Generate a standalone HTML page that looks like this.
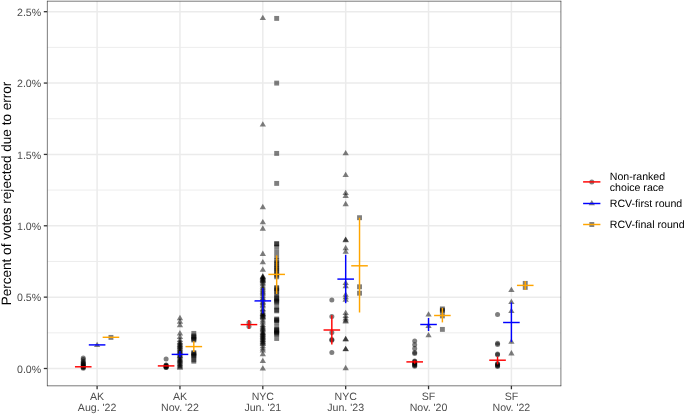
<!DOCTYPE html>
<html><head><meta charset="utf-8"><style>
html,body{margin:0;padding:0;background:#fff;width:685px;height:415px;overflow:hidden}
svg{display:block;will-change:transform}
text{font-family:"Liberation Sans",sans-serif;text-rendering:geometricPrecision}
</style></head><body>
<svg width="685" height="415" viewBox="0 0 685 415">
<rect width="685" height="415" fill="#fff"/>
<g stroke="#EBEBEB" fill="none"><line x1="47.3" y1="332.82" x2="561" y2="332.82" stroke-width="0.9"/><line x1="47.3" y1="261.46" x2="561" y2="261.46" stroke-width="0.9"/><line x1="47.3" y1="190.1" x2="561" y2="190.1" stroke-width="0.9"/><line x1="47.3" y1="118.74" x2="561" y2="118.74" stroke-width="0.9"/><line x1="47.3" y1="47.38" x2="561" y2="47.38" stroke-width="0.9"/><line x1="47.3" y1="368.5" x2="561" y2="368.5" stroke-width="1.5"/><line x1="47.3" y1="297.14" x2="561" y2="297.14" stroke-width="1.5"/><line x1="47.3" y1="225.78" x2="561" y2="225.78" stroke-width="1.5"/><line x1="47.3" y1="154.42" x2="561" y2="154.42" stroke-width="1.5"/><line x1="47.3" y1="83.06" x2="561" y2="83.06" stroke-width="1.5"/><line x1="47.3" y1="11.7" x2="561" y2="11.7" stroke-width="1.5"/><line x1="97.1" y1="1.2" x2="97.1" y2="385.8" stroke-width="1.5"/><line x1="179.96" y1="1.2" x2="179.96" y2="385.8" stroke-width="1.5"/><line x1="262.82" y1="1.2" x2="262.82" y2="385.8" stroke-width="1.5"/><line x1="345.68" y1="1.2" x2="345.68" y2="385.8" stroke-width="1.5"/><line x1="428.54" y1="1.2" x2="428.54" y2="385.8" stroke-width="1.5"/><line x1="511.4" y1="1.2" x2="511.4" y2="385.8" stroke-width="1.5"/></g>
<g fill="#000000" fill-opacity="0.5"><circle cx="83.25" cy="357.9" r="2.5"/><circle cx="83.25" cy="359.6" r="2.5"/><circle cx="83.25" cy="361.5" r="2.5"/><circle cx="83.25" cy="362.5" r="2.5"/><circle cx="83.25" cy="363.4" r="2.5"/><circle cx="83.25" cy="364.2" r="2.5"/><circle cx="83.25" cy="365" r="2.5"/><circle cx="83.25" cy="365.7" r="2.5"/><circle cx="83.25" cy="366.4" r="2.5"/><circle cx="83.25" cy="367" r="2.5"/><circle cx="83.25" cy="367.6" r="2.5"/><circle cx="83.25" cy="368.2" r="2.5"/><circle cx="166.11" cy="358.9" r="2.5"/><circle cx="166.11" cy="364.9" r="2.5"/><circle cx="166.11" cy="365.3" r="2.5"/><circle cx="166.11" cy="365.9" r="2.5"/><circle cx="166.11" cy="366.4" r="2.5"/><circle cx="166.11" cy="366.9" r="2.5"/><circle cx="166.11" cy="367.3" r="2.5"/><circle cx="166.11" cy="367.6" r="2.5"/><circle cx="248.97" cy="322.8" r="2.5"/><circle cx="248.97" cy="326.4" r="2.5"/><circle cx="331.83" cy="299.9" r="2.5"/><circle cx="331.83" cy="316.4" r="2.5"/><circle cx="331.83" cy="332.6" r="2.5"/><circle cx="331.83" cy="339.6" r="2.5"/><circle cx="331.83" cy="340.2" r="2.5"/><circle cx="331.83" cy="352.5" r="2.5"/><circle cx="414.69" cy="341" r="2.5"/><circle cx="414.69" cy="344.8" r="2.5"/><circle cx="414.69" cy="348.4" r="2.5"/><circle cx="414.69" cy="352.6" r="2.5"/><circle cx="414.69" cy="353.6" r="2.5"/><circle cx="414.69" cy="360.9" r="2.5"/><circle cx="414.69" cy="361.6" r="2.5"/><circle cx="414.69" cy="362.4" r="2.5"/><circle cx="414.69" cy="363.2" r="2.5"/><circle cx="414.69" cy="364" r="2.5"/><circle cx="414.69" cy="364.8" r="2.5"/><circle cx="414.69" cy="365.6" r="2.5"/><circle cx="414.69" cy="366.3" r="2.5"/><circle cx="497.55" cy="314.4" r="2.5"/><circle cx="497.55" cy="343.2" r="2.5"/><circle cx="497.55" cy="344.4" r="2.5"/><circle cx="497.55" cy="354" r="2.5"/><circle cx="497.55" cy="354.8" r="2.5"/><circle cx="497.55" cy="363.4" r="2.5"/><circle cx="497.55" cy="364.2" r="2.5"/><circle cx="497.55" cy="365" r="2.5"/><circle cx="497.55" cy="365.8" r="2.5"/><circle cx="497.55" cy="366.4" r="2.5"/></g>
<g fill="#000000" fill-opacity="0.5"><path d="M97.1 341.65L100.25 346.98L93.95 346.98Z"/><path d="M179.96 314.85L183.11 320.18L176.81 320.18Z"/><path d="M179.96 318.35L183.11 323.68L176.81 323.68Z"/><path d="M179.96 321.85L183.11 327.18L176.81 327.18Z"/><path d="M179.96 330.05L183.11 335.38L176.81 335.38Z"/><path d="M179.96 333.65L183.11 338.98L176.81 338.98Z"/><path d="M179.96 336.65L183.11 341.98L176.81 341.98Z"/><path d="M179.96 338.62L183.11 343.95L176.81 343.95Z"/><path d="M179.96 339.69L183.11 345.02L176.81 345.02Z"/><path d="M179.96 340.9L183.11 346.23L176.81 346.23Z"/><path d="M179.96 341.63L183.11 346.96L176.81 346.96Z"/><path d="M179.96 342.65L183.11 347.98L176.81 347.98Z"/><path d="M179.96 343.7L183.11 349.03L176.81 349.03Z"/><path d="M179.96 344.46L183.11 349.79L176.81 349.79Z"/><path d="M179.96 345.66L183.11 350.99L176.81 350.99Z"/><path d="M179.96 346.73L183.11 352.06L176.81 352.06Z"/><path d="M179.96 347.83L183.11 353.16L176.81 353.16Z"/><path d="M179.96 348.41L183.11 353.74L176.81 353.74Z"/><path d="M179.96 349.53L183.11 354.86L176.81 354.86Z"/><path d="M179.96 350.4L183.11 355.73L176.81 355.73Z"/><path d="M179.96 351.84L183.11 357.17L176.81 357.17Z"/><path d="M179.96 352.77L183.11 358.1L176.81 358.1Z"/><path d="M179.96 353.38L183.11 358.71L176.81 358.71Z"/><path d="M179.96 354.94L183.11 360.27L176.81 360.27Z"/><path d="M179.96 355.93L183.11 361.26L176.81 361.26Z"/><path d="M179.96 356.74L183.11 362.07L176.81 362.07Z"/><path d="M179.96 357.72L183.11 363.05L176.81 363.05Z"/><path d="M179.96 358.44L183.11 363.77L176.81 363.77Z"/><path d="M179.96 359.36L183.11 364.69L176.81 364.69Z"/><path d="M179.96 360.67L183.11 366L176.81 366Z"/><path d="M179.96 361.39L183.11 366.72L176.81 366.72Z"/><path d="M179.96 362.46L183.11 367.79L176.81 367.79Z"/><path d="M179.96 363.5L183.11 368.83L176.81 368.83Z"/><path d="M179.96 364.37L183.11 369.7L176.81 369.7Z"/><path d="M262.82 14.68L265.97 20.01L259.67 20.01Z"/><path d="M262.82 121.25L265.97 126.58L259.67 126.58Z"/><path d="M262.82 203.85L265.97 209.18L259.67 209.18Z"/><path d="M262.82 218.95L265.97 224.28L259.67 224.28Z"/><path d="M262.82 225.35L265.97 230.68L259.67 230.68Z"/><path d="M262.82 250.55L265.97 255.88L259.67 255.88Z"/><path d="M262.82 258.95L265.97 264.28L259.67 264.28Z"/><path d="M262.82 266.45L265.97 271.78L259.67 271.78Z"/><path d="M262.82 274.11L265.97 279.44L259.67 279.44Z"/><path d="M262.82 276.34L265.97 281.67L259.67 281.67Z"/><path d="M262.82 277.98L265.97 283.31L259.67 283.31Z"/><path d="M262.82 279.53L265.97 284.86L259.67 284.86Z"/><path d="M262.82 280.97L265.97 286.3L259.67 286.3Z"/><path d="M262.82 283.24L265.97 288.57L259.67 288.57Z"/><path d="M262.82 284.96L265.97 290.29L259.67 290.29Z"/><path d="M262.82 286.36L265.97 291.69L259.67 291.69Z"/><path d="M262.82 288.06L265.97 293.39L259.67 293.39Z"/><path d="M262.82 289.49L265.97 294.82L259.67 294.82Z"/><path d="M262.82 290.95L265.97 296.28L259.67 296.28Z"/><path d="M262.82 293.02L265.97 298.35L259.67 298.35Z"/><path d="M262.82 294.94L265.97 300.27L259.67 300.27Z"/><path d="M262.82 296.12L265.97 301.45L259.67 301.45Z"/><path d="M262.82 298.54L265.97 303.87L259.67 303.87Z"/><path d="M262.82 299.68L265.97 305.01L259.67 305.01Z"/><path d="M262.82 301.38L265.97 306.71L259.67 306.71Z"/><path d="M262.82 302.89L265.97 308.22L259.67 308.22Z"/><path d="M262.82 305.55L265.97 310.88L259.67 310.88Z"/><path d="M262.82 306.99L265.97 312.32L259.67 312.32Z"/><path d="M262.82 308.83L265.97 314.16L259.67 314.16Z"/><path d="M262.82 310.27L265.97 315.6L259.67 315.6Z"/><path d="M262.82 311.38L265.97 316.71L259.67 316.71Z"/><path d="M262.82 313.38L265.97 318.71L259.67 318.71Z"/><path d="M262.82 273.05L265.97 278.38L259.67 278.38Z"/><path d="M262.82 273.85L265.97 279.18L259.67 279.18Z"/><path d="M262.82 275.05L265.97 280.38L259.67 280.38Z"/><path d="M262.82 276.25L265.97 281.58L259.67 281.58Z"/><path d="M262.82 277.45L265.97 282.78L259.67 282.78Z"/><path d="M262.82 310.65L265.97 315.98L259.67 315.98Z"/><path d="M262.82 312.05L265.97 317.38L259.67 317.38Z"/><path d="M262.82 313.45L265.97 318.78L259.67 318.78Z"/><path d="M262.82 314.85L265.97 320.18L259.67 320.18Z"/><path d="M262.82 317.22L265.97 322.55L259.67 322.55Z"/><path d="M262.82 319.23L265.97 324.56L259.67 324.56Z"/><path d="M262.82 321.66L265.97 326.99L259.67 326.99Z"/><path d="M262.82 323.2L265.97 328.53L259.67 328.53Z"/><path d="M262.82 324.52L265.97 329.85L259.67 329.85Z"/><path d="M262.82 325.79L265.97 331.12L259.67 331.12Z"/><path d="M262.82 326.6L265.97 331.93L259.67 331.93Z"/><path d="M262.82 328.21L265.97 333.54L259.67 333.54Z"/><path d="M262.82 329.4L265.97 334.73L259.67 334.73Z"/><path d="M262.82 330.03L265.97 335.36L259.67 335.36Z"/><path d="M262.82 330.99L265.97 336.32L259.67 336.32Z"/><path d="M262.82 331.62L265.97 336.95L259.67 336.95Z"/><path d="M262.82 332.85L265.97 338.18L259.67 338.18Z"/><path d="M262.82 333.43L265.97 338.76L259.67 338.76Z"/><path d="M262.82 334.52L265.97 339.85L259.67 339.85Z"/><path d="M262.82 335.19L265.97 340.52L259.67 340.52Z"/><path d="M262.82 336.35L265.97 341.68L259.67 341.68Z"/><path d="M262.82 337.01L265.97 342.34L259.67 342.34Z"/><path d="M262.82 338.13L265.97 343.46L259.67 343.46Z"/><path d="M262.82 339.04L265.97 344.37L259.67 344.37Z"/><path d="M262.82 339.96L265.97 345.29L259.67 345.29Z"/><path d="M262.82 340.73L265.97 346.06L259.67 346.06Z"/><path d="M262.82 342.88L265.97 348.21L259.67 348.21Z"/><path d="M262.82 345.21L265.97 350.54L259.67 350.54Z"/><path d="M262.82 347.16L265.97 352.49L259.67 352.49Z"/><path d="M262.82 350.85L265.97 356.18L259.67 356.18Z"/><path d="M262.82 357.75L265.97 363.08L259.67 363.08Z"/><path d="M262.82 365.15L265.97 370.48L259.67 370.48Z"/><path d="M345.68 149.95L348.83 155.28L342.53 155.28Z"/><path d="M345.68 171.65L348.83 176.98L342.53 176.98Z"/><path d="M345.68 189.75L348.83 195.08L342.53 195.08Z"/><path d="M345.68 192.55L348.83 197.88L342.53 197.88Z"/><path d="M345.68 200.85L348.83 206.18L342.53 206.18Z"/><path d="M345.68 236.45L348.83 241.78L342.53 241.78Z"/><path d="M345.68 236.85L348.83 242.18L342.53 242.18Z"/><path d="M345.68 244.85L348.83 250.18L342.53 250.18Z"/><path d="M345.68 248.45L348.83 253.78L342.53 253.78Z"/><path d="M345.68 279.75L348.83 285.08L342.53 285.08Z"/><path d="M345.68 282.85L348.83 288.18L342.53 288.18Z"/><path d="M345.68 291.45L348.83 296.78L342.53 296.78Z"/><path d="M345.68 293.95L348.83 299.28L342.53 299.28Z"/><path d="M345.68 296.35L348.83 301.68L342.53 301.68Z"/><path d="M345.68 309.65L348.83 314.98L342.53 314.98Z"/><path d="M345.68 312.65L348.83 317.98L342.53 317.98Z"/><path d="M345.68 315.05L348.83 320.38L342.53 320.38Z"/><path d="M345.68 317.05L348.83 322.38L342.53 322.38Z"/><path d="M345.68 318.15L348.83 323.48L342.53 323.48Z"/><path d="M345.68 335.75L348.83 341.08L342.53 341.08Z"/><path d="M345.68 336.05L348.83 341.38L342.53 341.38Z"/><path d="M345.68 345.65L348.83 350.98L342.53 350.98Z"/><path d="M345.68 345.95L348.83 351.28L342.53 351.28Z"/><path d="M345.68 364.85L348.83 370.18L342.53 370.18Z"/><path d="M428.54 311.15L431.69 316.48L425.39 316.48Z"/><path d="M428.54 322.65L431.69 327.98L425.39 327.98Z"/><path d="M428.54 331.95L431.69 337.28L425.39 337.28Z"/><path d="M511.4 286.65L514.55 291.98L508.25 291.98Z"/><path d="M511.4 298.75L514.55 304.08L508.25 304.08Z"/><path d="M511.4 307.65L514.55 312.98L508.25 312.98Z"/><path d="M511.4 338.45L514.55 343.78L508.25 343.78Z"/><path d="M511.4 350.05L514.55 355.38L508.25 355.38Z"/></g>
<g fill="#000000" fill-opacity="0.5"><rect x="108.5" y="334.95" width="4.9" height="4.9"/><rect x="191.36" y="330.95" width="4.9" height="4.9"/><rect x="191.36" y="333.45" width="4.9" height="4.9"/><rect x="191.36" y="334.45" width="4.9" height="4.9"/><rect x="191.36" y="335.55" width="4.9" height="4.9"/><rect x="191.36" y="336.65" width="4.9" height="4.9"/><rect x="191.36" y="337.55" width="4.9" height="4.9"/><rect x="191.36" y="350.15" width="4.9" height="4.9"/><rect x="191.36" y="351.05" width="4.9" height="4.9"/><rect x="191.36" y="352.15" width="4.9" height="4.9"/><rect x="191.36" y="353.15" width="4.9" height="4.9"/><rect x="191.36" y="353.95" width="4.9" height="4.9"/><rect x="191.36" y="357.35" width="4.9" height="4.9"/><rect x="191.36" y="358.75" width="4.9" height="4.9"/><rect x="274.22" y="15.95" width="4.9" height="4.9"/><rect x="274.22" y="80.65" width="4.9" height="4.9"/><rect x="274.22" y="150.95" width="4.9" height="4.9"/><rect x="274.22" y="180.95" width="4.9" height="4.9"/><rect x="274.22" y="241.2" width="4.9" height="4.9"/><rect x="274.22" y="241.5" width="4.9" height="4.9"/><rect x="274.22" y="244.7" width="4.9" height="4.9"/><rect x="274.22" y="249.6" width="4.9" height="4.9"/><rect x="274.22" y="254.35" width="4.9" height="4.9"/><rect x="274.22" y="258.26" width="4.9" height="4.9"/><rect x="274.22" y="260.32" width="4.9" height="4.9"/><rect x="274.22" y="262.49" width="4.9" height="4.9"/><rect x="274.22" y="264.66" width="4.9" height="4.9"/><rect x="274.22" y="266.33" width="4.9" height="4.9"/><rect x="274.22" y="268.32" width="4.9" height="4.9"/><rect x="274.22" y="270.39" width="4.9" height="4.9"/><rect x="274.22" y="272.7" width="4.9" height="4.9"/><rect x="274.22" y="274.34" width="4.9" height="4.9"/><rect x="274.22" y="285.05" width="4.9" height="4.9"/><rect x="274.22" y="286.15" width="4.9" height="4.9"/><rect x="274.22" y="287.75" width="4.9" height="4.9"/><rect x="274.22" y="289.75" width="4.9" height="4.9"/><rect x="274.22" y="292.55" width="4.9" height="4.9"/><rect x="274.22" y="295.05" width="4.9" height="4.9"/><rect x="274.22" y="296.35" width="4.9" height="4.9"/><rect x="274.22" y="297.75" width="4.9" height="4.9"/><rect x="274.22" y="299.05" width="4.9" height="4.9"/><rect x="274.22" y="299.95" width="4.9" height="4.9"/><rect x="274.22" y="304.35" width="4.9" height="4.9"/><rect x="274.22" y="307.55" width="4.9" height="4.9"/><rect x="274.22" y="308.45" width="4.9" height="4.9"/><rect x="274.22" y="316.55" width="4.9" height="4.9"/><rect x="274.22" y="317.35" width="4.9" height="4.9"/><rect x="274.22" y="318.15" width="4.9" height="4.9"/><rect x="274.22" y="319.75" width="4.9" height="4.9"/><rect x="274.22" y="324.35" width="4.9" height="4.9"/><rect x="274.22" y="327.05" width="4.9" height="4.9"/><rect x="274.22" y="328.05" width="4.9" height="4.9"/><rect x="274.22" y="328.85" width="4.9" height="4.9"/><rect x="274.22" y="329.75" width="4.9" height="4.9"/><rect x="274.22" y="330.85" width="4.9" height="4.9"/><rect x="274.22" y="331.55" width="4.9" height="4.9"/><rect x="274.22" y="336.05" width="4.9" height="4.9"/><rect x="357.08" y="215.25" width="4.9" height="4.9"/><rect x="357.08" y="284.35" width="4.9" height="4.9"/><rect x="357.08" y="290.75" width="4.9" height="4.9"/><rect x="439.94" y="306.45" width="4.9" height="4.9"/><rect x="439.94" y="307.75" width="4.9" height="4.9"/><rect x="439.94" y="308.55" width="4.9" height="4.9"/><rect x="439.94" y="313.45" width="4.9" height="4.9"/><rect x="439.94" y="326.95" width="4.9" height="4.9"/><rect x="522.8" y="280.95" width="4.9" height="4.9"/><rect x="522.8" y="284.95" width="4.9" height="4.9"/></g>
<g stroke="#FF0000" stroke-width="1.45" fill="none"><line x1="74.95" y1="366.8" x2="91.55" y2="366.8"/><line x1="157.81" y1="365.9" x2="174.41" y2="365.9"/><line x1="248.97" y1="320" x2="248.97" y2="329"/><line x1="240.67" y1="324.6" x2="257.27" y2="324.6"/><line x1="331.83" y1="315.2" x2="331.83" y2="344.5"/><line x1="323.53" y1="330" x2="340.13" y2="330"/><line x1="414.69" y1="360.4" x2="414.69" y2="363.7"/><line x1="406.39" y1="361.9" x2="422.99" y2="361.9"/><line x1="497.55" y1="356.5" x2="497.55" y2="364.4"/><line x1="489.25" y1="360.2" x2="505.85" y2="360.2"/></g>
<g stroke="#0000FF" stroke-width="1.45" fill="none"><line x1="88.8" y1="344.9" x2="105.4" y2="344.9"/><line x1="179.96" y1="350.9" x2="179.96" y2="357.3"/><line x1="171.66" y1="354.4" x2="188.26" y2="354.4"/><line x1="262.82" y1="288" x2="262.82" y2="313.6"/><line x1="254.52" y1="300.9" x2="271.12" y2="300.9"/><line x1="345.68" y1="254.8" x2="345.68" y2="303.2"/><line x1="337.38" y1="279.1" x2="353.98" y2="279.1"/><line x1="428.54" y1="318" x2="428.54" y2="331"/><line x1="420.24" y1="324.5" x2="436.84" y2="324.5"/><line x1="511.4" y1="302.5" x2="511.4" y2="341.9"/><line x1="503.1" y1="322.5" x2="519.7" y2="322.5"/></g>
<g stroke="#FFA500" stroke-width="1.45" fill="none"><line x1="102.65" y1="337.3" x2="119.25" y2="337.3"/><line x1="193.81" y1="341.3" x2="193.81" y2="352.1"/><line x1="185.51" y1="346.6" x2="202.11" y2="346.6"/><line x1="276.67" y1="255.4" x2="276.67" y2="294"/><line x1="268.37" y1="274.4" x2="284.97" y2="274.4"/><line x1="359.53" y1="217.7" x2="359.53" y2="312.5"/><line x1="351.23" y1="265.8" x2="367.83" y2="265.8"/><line x1="442.39" y1="307.9" x2="442.39" y2="322.4"/><line x1="434.09" y1="315.5" x2="450.69" y2="315.5"/><line x1="525.25" y1="280.9" x2="525.25" y2="289.9"/><line x1="516.95" y1="285.4" x2="533.55" y2="285.4"/></g>
<g stroke="#333333" stroke-width="0.65" fill="none"><line x1="47.35" y1="0.9" x2="47.35" y2="386.1"/><line x1="560.9" y1="0.9" x2="560.9" y2="386.1"/><line x1="47" y1="1.2" x2="561.2" y2="1.2"/><line x1="47" y1="385.8" x2="561.2" y2="385.8"/></g>
<g stroke="#333333" stroke-width="1.3"><line x1="43.8" y1="368.5" x2="47.1" y2="368.5"/><line x1="43.8" y1="297.14" x2="47.1" y2="297.14"/><line x1="43.8" y1="225.78" x2="47.1" y2="225.78"/><line x1="43.8" y1="154.42" x2="47.1" y2="154.42"/><line x1="43.8" y1="83.06" x2="47.1" y2="83.06"/><line x1="43.8" y1="11.7" x2="47.1" y2="11.7"/><line x1="97.1" y1="385.9" x2="97.1" y2="389.25"/><line x1="179.96" y1="385.9" x2="179.96" y2="389.25"/><line x1="262.82" y1="385.9" x2="262.82" y2="389.25"/><line x1="345.68" y1="385.9" x2="345.68" y2="389.25"/><line x1="428.54" y1="385.9" x2="428.54" y2="389.25"/><line x1="511.4" y1="385.9" x2="511.4" y2="389.25"/></g>
<g font-size="10.6" fill="#4D4D4D"><text x="41.2" y="372.7" text-anchor="end">0.0%</text><text x="41.2" y="301.34" text-anchor="end">0.5%</text><text x="41.2" y="229.98" text-anchor="end">1.0%</text><text x="41.2" y="158.62" text-anchor="end">1.5%</text><text x="41.2" y="87.26" text-anchor="end">2.0%</text><text x="41.2" y="15.9" text-anchor="end">2.5%</text></g>
<g font-size="10.6" fill="#4D4D4D"><text x="97.1" y="399.7" text-anchor="middle">AK</text><text x="97.1" y="411.3" text-anchor="middle">Aug. '22</text><text x="179.96" y="399.7" text-anchor="middle">AK</text><text x="179.96" y="411.3" text-anchor="middle">Nov. '22</text><text x="262.82" y="399.7" text-anchor="middle">NYC</text><text x="262.82" y="411.3" text-anchor="middle">Jun. '21</text><text x="345.68" y="399.7" text-anchor="middle">NYC</text><text x="345.68" y="411.3" text-anchor="middle">Jun. '23</text><text x="428.54" y="399.7" text-anchor="middle">SF</text><text x="428.54" y="411.3" text-anchor="middle">Nov. '20</text><text x="511.4" y="399.7" text-anchor="middle">SF</text><text x="511.4" y="411.3" text-anchor="middle">Nov. '22</text></g>
<text transform="translate(10.7 193.5) rotate(-90)" text-anchor="middle" font-size="13.55" fill="#000">Percent of votes rejected due to error</text>
<g fill="#000000" fill-opacity="0.5"><circle cx="591.8" cy="181.9" r="2.5"/></g><line x1="583.1" y1="181.9" x2="600.4" y2="181.9" stroke="#FF0000" stroke-width="1.45"/><g fill="#000000" fill-opacity="0.5"><path d="M591.8 199.95L594.95 205.28L588.65 205.28Z"/></g><line x1="583.1" y1="203.5" x2="600.4" y2="203.5" stroke="#0000FF" stroke-width="1.45"/><g fill="#000000" fill-opacity="0.5"><rect x="589.35" y="222.05" width="4.9" height="4.9"/></g><line x1="583.1" y1="224.5" x2="600.4" y2="224.5" stroke="#FFA500" stroke-width="1.45"/>
<g font-size="10.6" fill="#000"><text x="609.8" y="179.8">Non-ranked</text><text x="609.8" y="191.3">choice race</text><text x="609.8" y="206.9">RCV-first round</text><text x="609.8" y="228.2">RCV-final round</text></g>
</svg></body></html>
